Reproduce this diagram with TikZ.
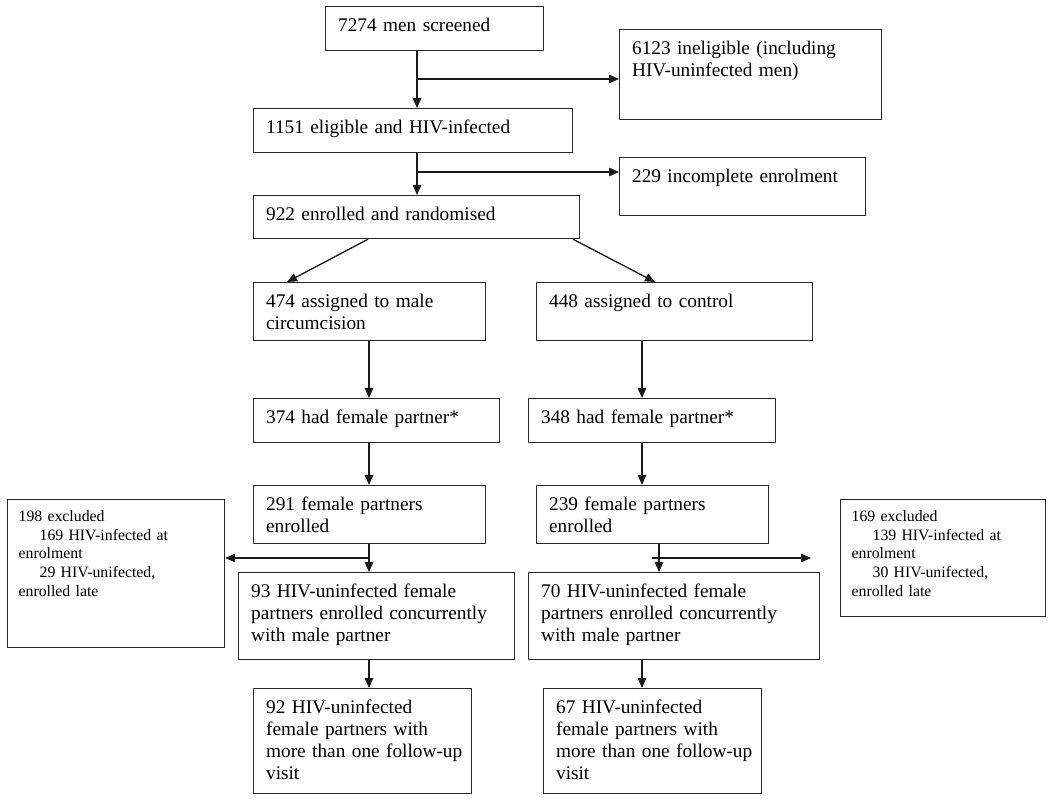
\documentclass[tikz,border=0pt]{standalone}
\usepackage{fontspec}
\setmainfont{Liberation Serif}
\usetikzlibrary{arrows.meta}
\tikzset{
  box/.style={draw=black!85, line width=1.2pt, anchor=north west, inner xsep=12.5pt, inner ysep=0pt,
    align=left, text height=25pt, font=\fontsize{19.3}{22}\selectfont},
  smallbox/.style={box, inner xsep=11pt, text height=22pt, font=\fontsize{15.8}{18.6}\selectfont},
  arr/.style={line width=1.3pt, draw=black!90, -{Triangle[length=10pt,width=8.5pt]}},
  ln/.style={line width=1.3pt, draw=black!90}
}
\begin{document}
\begin{tikzpicture}[x=1pt,y=-1pt]
\useasboundingbox (0,0) rectangle (1050,799);
% boxes
\node[box, text width=193pt, text depth=19pt] (A) at (325,6) {7274 men screened};
\node[box, text width=237pt, text depth=65pt] (D) at (619,29) {6123 ineligible (including\\HIV-uninfected men)};
\node[box, text width=294pt, text depth=19pt] (B) at (253,108) {1151 eligible and HIV-infected};
\node[box, text width=221pt, text depth=33pt] (E) at (619,157) {229 incomplete enrolment};
\node[box, text width=301pt, text depth=18pt] (C) at (253,195) {922 enrolled and randomised};
\node[box, text width=207pt, text depth=33pt] (F) at (253,282) {474 assigned to male\\circumcision};
\node[box, text width=251pt, text depth=33pt] (G) at (536,282) {448 assigned to control};
\node[box, text width=221pt, text depth=19pt] (H) at (253,398) {374 had female partner*};
\node[box, text width=222pt, text depth=19pt] (I) at (528,398) {348 had female partner*};
\node[box, text width=207pt, text depth=33pt] (J) at (253,485) {291 female partners\\enrolled};
\node[box, text width=207pt, text depth=33pt] (N) at (536,485) {239 female partners\\enrolled};
\node[box, text width=251pt, text depth=62pt] (K) at (238,572) {93 HIV-uninfected female\\partners enrolled concurrently\\with male partner};
\node[box, text width=266pt, text depth=62pt] (O) at (528,572) {70 HIV-uninfected female\\partners enrolled concurrently\\with male partner};
\node[box, text width=193pt, text depth=80pt] (P) at (253,688) {92 HIV-uninfected\\female partners with\\\mbox{more than one follow-up}\\visit};
\node[box, text width=193pt, text depth=80pt] (Q) at (543,688) {67 HIV-uninfected\\female partners with\\\mbox{more than one follow-up}\\visit};
\node[smallbox, text width=195pt, text depth=126pt] (L) at (7,499) {198 excluded\\\hspace*{21pt}169 HIV-infected at\\enrolment\\\hspace*{21pt}29 HIV-unifected,\\enrolled late};
\node[smallbox, text width=183pt, text depth=95pt] (M) at (840,499) {169 excluded\\\hspace*{21pt}139 HIV-infected at\\enrolment\\\hspace*{21pt}30 HIV-unifected,\\enrolled late};
% helper coordinates
\coordinate (xa) at (417,0);
\coordinate (b1) at (417,79);
\coordinate (b2) at (417,172);
\coordinate (cl) at (368,0);
\coordinate (fl) at (287,0);
\coordinate (cr) at (573,0);
\coordinate (gr) at (655,0);
\coordinate (xl) at (369,0);
\coordinate (xr) at (642,0);
\coordinate (xn) at (659,0);
\coordinate (j1) at (369,558);
\coordinate (n1) at (652,558);
\coordinate (n2) at (811,558);
% connectors
\draw[arr] (A.south -| xa) -- (B.north -| xa);
\draw[arr] (b1) -- (b1 -| D.west);
\draw[arr] (B.south -| xa) -- (C.north -| xa);
\draw[arr] (b2) -- (b2 -| E.west);
\draw[arr] (C.south -| cl) -- (F.north -| fl);
\draw[arr] (C.south -| cr) -- (G.north -| gr);
\draw[arr] (F.south -| xl) -- (H.north -| xl);
\draw[arr] (G.south -| xr) -- (I.north -| xr);
\draw[arr] (H.south -| xl) -- (J.north -| xl);
\draw[arr] (I.south -| xr) -- (N.north -| xr);
\draw[arr] (J.south -| xl) -- (K.north -| xl);
\draw[arr] (j1) -- (j1 -| L.east);
\draw[arr] (N.south -| xn) -- (O.north -| xn);
\draw[arr] (n1) -- (n2);
\draw[arr] (K.south -| xl) -- (P.north -| xl);
\draw[arr] (O.south -| xr) -- (Q.north -| xr);
\end{tikzpicture}
\end{document}
